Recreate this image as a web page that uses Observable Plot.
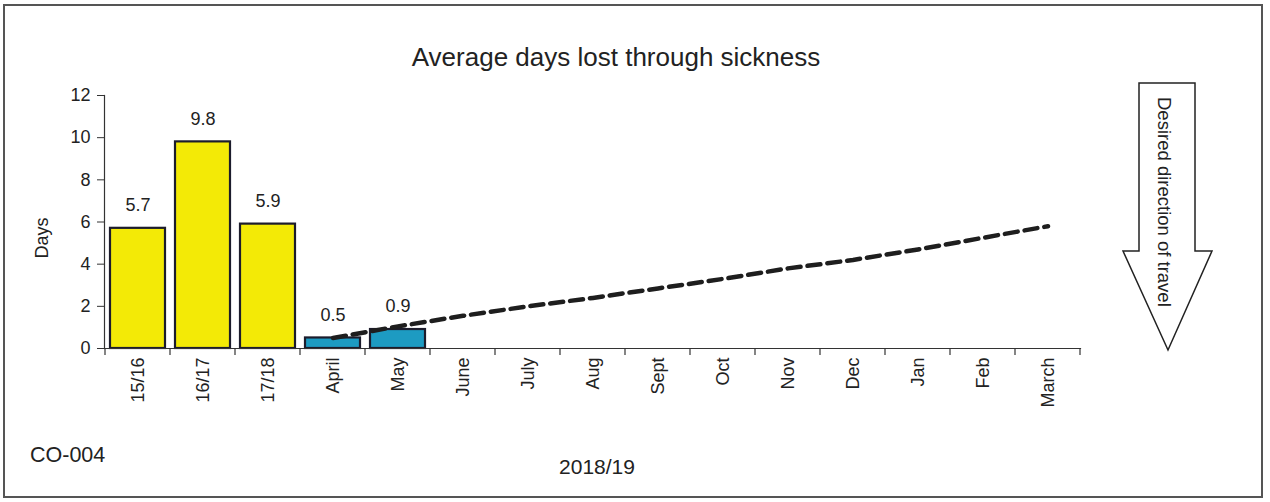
<!DOCTYPE html>
<html><head><meta charset="utf-8">
<script src="https://cdn.jsdelivr.net/npm/d3@7"></script>
<script src="https://cdn.jsdelivr.net/npm/@observablehq/plot@0.6"></script>
<style>
body{margin:0;background:#fff}
svg{font-family:"Liberation Sans",Arial,sans-serif}
</style>
</head><body><div id="chart"></div>
<script>
const categories = ["15/16","16/17","17/18","April","May","June","July","Aug","Sept","Oct","Nov","Dec","Jan","Feb","March"];
const barCategories = ["15/16","16/17","17/18","April","May"];
const barValues = [5.7, 9.8, 5.9, 0.5, 0.9];
const barGroups = ["Previous years","Previous years","Previous years","2018/19","2018/19"];
const targetCategories = ["April","May","June","July","Aug","Sept","Oct","Nov","Dec","Jan","Feb","March"];
const targetValues = [0.5, 1.05, 1.55, 2.0, 2.4, 2.85, 3.3, 3.8, 4.2, 4.7, 5.25, 5.8];
const yTicks = [0, 2, 4, 6, 8, 10, 12];
const titleText = "Average days lost through sickness";
const yLabel = "Days";
const xLabel = "2018/19";
const codeText = "CO-004";
const arrowText = "Desired direction of travel";

const bars = barCategories.map((c, i) => ({cat: c, value: barValues[i], group: barGroups[i]}));
const target = targetCategories.map((c, i) => ({cat: c, value: targetValues[i]}));

const W = 1270, H = 502;
const chart = Plot.plot({
  width: W, height: H,
  marginLeft: 104, marginRight: 190, marginTop: 95, marginBottom: 154,
  style: {fontFamily: '"Liberation Sans", Arial, sans-serif', fontSize: "18px", color: "#222", background: "white", overflow: "visible"},
  x: {domain: categories, paddingInner: 0.154, paddingOuter: 0.077},
  y: {domain: [0, 12]},
  color: {domain: ["Previous years", "2018/19"], range: ["#f3ea06", "#1d9bc2"]},
  marks: [
    Plot.barY(bars, {x: "cat", y: "value", fill: "group", stroke: "#1c1c2c", strokeWidth: 2.2}),
    Plot.text(bars, {x: "cat", y: "value", text: d => d.value.toFixed(1), dy: -23, fontSize: 18, fill: "#222"}),
    Plot.lineY(target, {x: "cat", y: "value", stroke: "#1e1e1e", strokeWidth: 4.5, strokeDasharray: "13,7"}),
    Plot.axisY({ticks: yTicks, tickSize: 7, tickPadding: 7, label: null, fontSize: 18, stroke: "#333"}),
    Plot.axisX({tickSize: 0, tickRotate: -90, tickPadding: 9, label: null, fontSize: 18}),
    Plot.frame({anchor: "left", stroke: "#333", strokeWidth: 1.2}),
    Plot.frame({anchor: "bottom", stroke: "#333", strokeWidth: 1.2})
  ]
});
document.getElementById("chart").appendChild(chart);

const svg = d3.select(chart);
const xs = chart.scale("x");
const ys = chart.scale("y");
const step = xs.step, bw = xs.bandwidth;
const y0 = ys.apply(0);
const bounds = categories.map(c => xs.apply(c) - (step - bw) / 2);
bounds.push(bounds[bounds.length - 1] + step);
svg.append("g").selectAll("line").data(bounds).join("line")
  .attr("x1", d => d).attr("x2", d => d)
  .attr("y1", y0).attr("y2", y0 + 7)
  .attr("stroke", "#333").attr("stroke-width", 1.2);

// outer frame
svg.append("rect").attr("x", 4).attr("y", 5).attr("width", 1258).attr("height", 492)
  .attr("fill", "none").attr("stroke", "#555").attr("stroke-width", 2);

// title
svg.append("text").attr("x", 616).attr("y", 66).attr("text-anchor", "middle")
  .attr("font-size", 26).attr("fill", "#222").text(titleText);

// y label
svg.append("text").attr("transform", "translate(48,238) rotate(-90)").attr("text-anchor", "middle")
  .attr("font-size", 18).attr("fill", "#222").text(yLabel);

// bottom labels
svg.append("text").attr("x", 597).attr("y", 474).attr("text-anchor", "middle")
  .attr("font-size", 21).attr("fill", "#222").text(xLabel);
svg.append("text").attr("x", 30).attr("y", 462).attr("text-anchor", "start")
  .attr("font-size", 21.5).attr("fill", "#222").text(codeText);

// arrow
svg.append("path")
  .attr("d", "M1139,83 L1195,83 L1195,251 L1212,251 L1168,350 L1123,251 L1139,251 Z")
  .attr("fill", "white").attr("stroke", "#222").attr("stroke-width", 1.5);
svg.append("text").attr("transform", "translate(1158,97) rotate(90)").attr("text-anchor", "start")
  .attr("font-size", 18.5).attr("fill", "#222").text(arrowText);
</script>
</body></html>
